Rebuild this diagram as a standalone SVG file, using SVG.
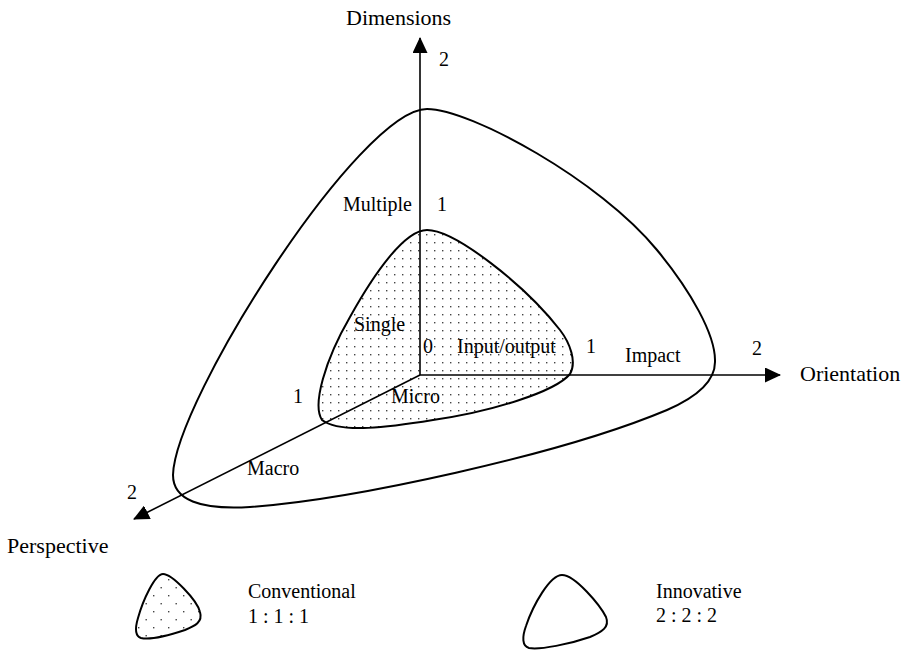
<svg xmlns="http://www.w3.org/2000/svg" width="907" height="651" viewBox="0 0 907 651">
<style>
.t{font-family:"Liberation Serif","Times New Roman",serif;font-size:20px;fill:#000}
.tt{font-family:"Liberation Serif","Times New Roman",serif;font-size:22px;fill:#000}
.curve{stroke:#000;stroke-width:2;fill:none}
.dotted{stroke:#000;stroke-width:2;fill:url(#dots)}
.dotted2{stroke:#000;stroke-width:2;fill:url(#dots2)}
.axis{stroke:#000;stroke-width:1.6;fill:none;marker-end:url(#arr)}
</style>
<defs>
<pattern id="dots" patternUnits="userSpaceOnUse" width="8" height="8">
<rect x="2" y="2" width="1.4" height="1.4" fill="#444"/>
</pattern>
<pattern id="dots2" patternUnits="userSpaceOnUse" width="15" height="16">
<rect x="3" y="3" width="1.4" height="1.4" fill="#444"/>
<rect x="10.5" y="11" width="1.4" height="1.4" fill="#444"/>
</pattern>
<marker id="arr" markerUnits="userSpaceOnUse" markerWidth="16" markerHeight="15" refX="15" refY="7.5" orient="auto">
<path d="M0,0 L16,7.5 L0,15 Z" fill="#000"/>
</marker>
</defs>

<g id="innovative-region">
<path class="curve" d="M427,109 C470,109 600,180 657,250 C690,290 716,335 715,362 C715,385 690,400 667,410 C560,455 350,500 250,507 C200,510 173,500 173,475 C175,400 360,109 427,109 Z"/>
</g>

<g id="conventional-region">
<path class="dotted" d="M427,230 C455,230 525,285 560,330 C570,343 577,362 570,374 C555,392 490,412 433,420 C390,427 340,434 322,420 C312,405 325,360 350,317 C375,272 405,230 427,230 Z"/>
</g>

<g id="connectors">
<line class="axis" x1="420" y1="375" x2="420" y2="38"/>
<line class="axis" x1="420" y1="375" x2="780" y2="375"/>
<line class="axis" x1="420" y1="375" x2="134" y2="519"/>
</g>

<g id="axis-dimensions">
<text class="tt" x="346" y="25">Dimensions</text>
<text class="t" x="439" y="66">2</text>
<text class="t" x="343" y="211">Multiple</text>
<text class="t" x="437" y="211">1</text>
<text class="t" x="354" y="331">Single</text>
<text class="t" x="423" y="353">0</text>
</g>

<g id="axis-orientation">
<text class="t" x="457" y="353">Input/output</text>
<text class="t" x="586" y="353">1</text>
<text class="t" x="625" y="362">Impact</text>
<text class="t" x="752" y="355">2</text>
<text class="tt" x="800" y="381">Orientation</text>
</g>

<g id="axis-perspective">
<text class="t" x="293" y="403">1</text>
<text class="t" x="391" y="403">Micro</text>
<text class="t" x="247" y="475">Macro</text>
<text class="t" x="127" y="499">2</text>
<text class="tt" x="7" y="553">Perspective</text>
</g>

<g id="legend-conventional">
<path class="dotted2" d="M163,574 C172,574 197,600 200,612 C203,622 195,626 185,630 C170,635 150,640 141,638 C135,636 135,628 138,618 C143,600 155,574 163,574 Z"/>
<text class="t" x="248" y="598">Conventional</text>
<text class="t" x="248" y="623">1 : 1 : 1</text>
</g>

<g id="legend-innovative">
<path class="curve" d="M562,575 C575,575 600,605 606,617 C610,627 602,632 590,637 C570,644 540,650 529,648 C522,646 522,637 526,626 C533,605 550,575 562,575 Z"/>
<text class="t" x="656" y="598">Innovative</text>
<text class="t" x="656" y="622">2 : 2 : 2</text>
</g>
</svg>
